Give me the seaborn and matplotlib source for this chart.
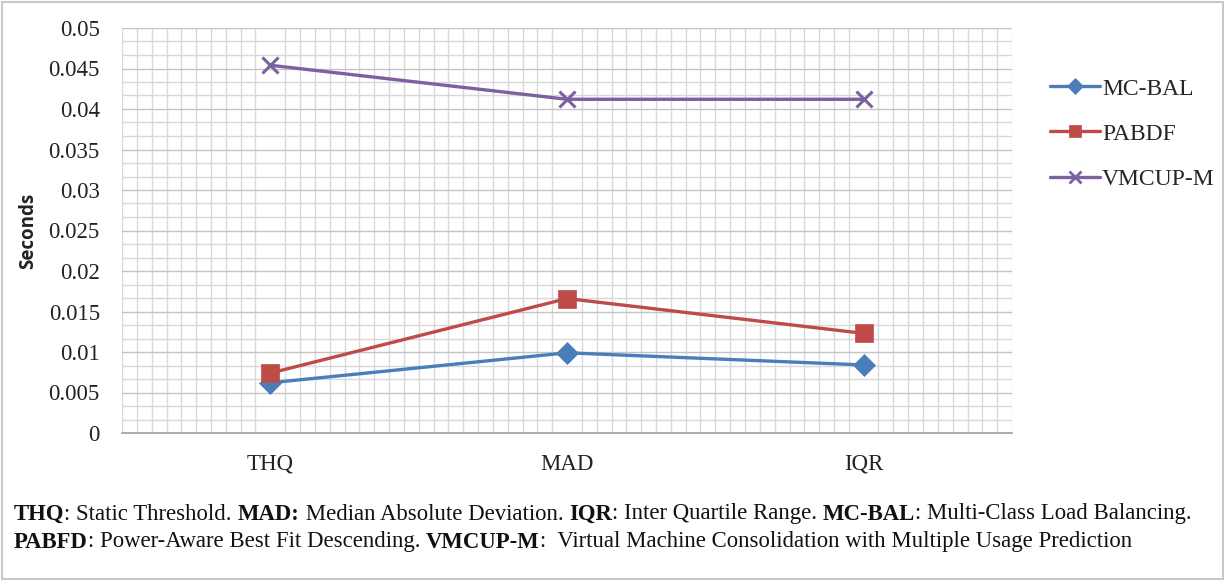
import numpy as np
import pandas as pd
import matplotlib
matplotlib.use("Agg")
import matplotlib.pyplot as plt
import seaborn as sns
from matplotlib.ticker import MultipleLocator
from matplotlib.patches import Rectangle
from matplotlib.lines import Line2D

categories = ["THQ", "MAD", "IQR"]
mc_bal = [0.0062, 0.0099, 0.0084]
pabdf = [0.0074, 0.0166, 0.0123]
vmcup_m = [0.0454, 0.0412, 0.0412]
series_names = ["MC-BAL", "PABDF", "VMCUP-M"]
y_ticks = [0, 0.005, 0.01, 0.015, 0.02, 0.025, 0.03, 0.035, 0.04, 0.045, 0.05]
y_tick_labels = ["0", "0.005", "0.01", "0.015", "0.02", "0.025", "0.03", "0.035", "0.04", "0.045", "0.05"]

df = pd.DataFrame({
    "Category": categories * 3,
    "Seconds": mc_bal + pabdf + vmcup_m,
    "Series": [s for s in series_names for _ in categories],
})

sns.set_style("white")
plt.rcParams["font.family"] = ["Liberation Serif", "DejaVu Serif"]

W, H = 1225, 581
fig = plt.figure(figsize=(W / 100, H / 100), dpi=100)
ax = fig.add_axes([122 / W, 1 - 433 / H, (1012 - 122) / W, (433 - 28) / H])

palette = {"MC-BAL": "#4A7EBB", "PABDF": "#BE4B48", "VMCUP-M": "#7D60A0"}
markers = {"MC-BAL": "D", "PABDF": "s", "VMCUP-M": "X"}
msize = {"MC-BAL": 11, "PABDF": 13, "VMCUP-M": 12}

sns.lineplot(data=df, x="Category", y="Seconds", hue="Series", style="Series",
             palette=palette, markers=markers, dashes=False, ax=ax,
             linewidth=2.4, markersize=12, legend=False, sort=False)
for ln, name in zip(ax.lines, series_names):
    ln.set_markersize(msize[name])
    if name == "VMCUP-M":
        ln.set_marker("x")
        ln.set_markeredgecolor(palette[name])
        ln.set_markeredgewidth(2.2)
    else:
        ln.set_markeredgewidth(0.5)
        ln.set_markeredgecolor(palette[name])

ax.set_xlim(-0.5, 2.5)
ax.set_ylim(0, 0.05)
ax.set_yticks(y_ticks)
ax.set_yticklabels(y_tick_labels)
ax.yaxis.set_minor_locator(MultipleLocator(0.005 / 3))
ax.xaxis.set_minor_locator(MultipleLocator(0.05))
ax.grid(which="major", axis="y", color="#c4c4c4", linewidth=1.0)
ax.grid(which="minor", axis="both", color="#d8d8d8", linewidth=1.0)
ax.set_axisbelow(True)
ax.tick_params(axis="both", which="both", length=0, labelsize=16.5, colors="#222222")
ax.tick_params(axis="y", pad=16)
ax.tick_params(axis="x", pad=15)
for s in ["top", "right", "left"]:
    ax.spines[s].set_visible(False)
ax.spines["bottom"].set_color("#a0a0a0")
ax.spines["bottom"].set_linewidth(1.2)
ax.set_xlabel("")
ax.set_ylabel("")
fig.text(28 / W, 1 - 231 / H, "Seconds", rotation=90, fontsize=13.5, fontweight="bold",
         family="Open Sans", ha="center", va="center", color="#222222")

# legend
handles = [Line2D([], [], color=palette[n], marker=markers[n] if n != "VMCUP-M" else "x",
                  linewidth=2.4, markersize=8, markeredgewidth=2 if n == "VMCUP-M" else 0.5)
           for n in series_names]
fig.legend(handles, series_names, loc="upper left", bbox_to_anchor=(1050 / W, 1 - 78 / H),
           frameon=False, fontsize=17, handlelength=2.1, handletextpad=0.1,
           labelspacing=1.0, borderaxespad=0, borderpad=0)

# caption with mixed bold
lines = [
    [("THQ", True), (": Static Threshold. ", False), ("MAD:", True), (" Median Absolute Deviation. ", False),
     ("IQR", True), (": Inter Quartile Range. ", False), ("MC-BAL", True), (": Multi-Class Load Balancing.", False)],
    [("PABFD", True), (": Power-Aware Best Fit Descending. ", False), ("VMCUP-M", True),
     (":  Virtual Machine Consolidation with Multiple Usage Prediction", False)],
]
fig.canvas.draw()
renderer = fig.canvas.get_renderer()
ys = [1 - 514 / H, 1 - 542 / H]
for parts, yy in zip(lines, ys):
    x = 14 / W
    for txt, bold in parts:
        t = fig.text(x, yy, txt, fontsize=16.4, fontweight="bold" if bold else "normal",
                     color="#111111", va="center", ha="left")
        bb = t.get_window_extent(renderer)
        x += bb.width / W

fig.patches.append(Rectangle((2 / W, 2 / H), 1 - 4 / W, 1 - 4 / H, transform=fig.transFigure,
                             fill=False, edgecolor="#c8c8c8", linewidth=1.5))
fig.savefig("out.png", dpi=100)
